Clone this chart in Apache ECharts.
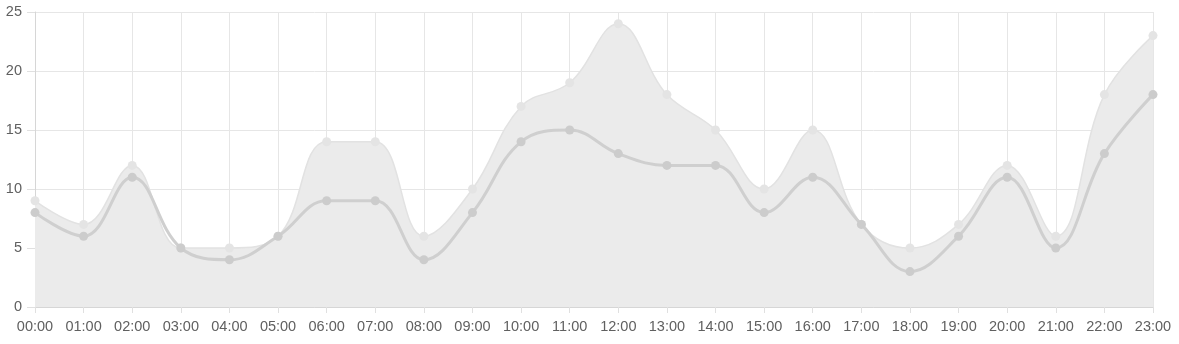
<!DOCTYPE html>
<html><head><meta charset="utf-8">
<script src="https://cdn.jsdelivr.net/npm/echarts@6/dist/echarts.min.js"></script>
<style>html,body{margin:0;padding:0;background:#fff}#c{width:1179px;height:344px}</style>
</head><body><div id="c"></div>
<script>
const categories = ['00:00','01:00','02:00','03:00','04:00','05:00','06:00','07:00','08:00','09:00','10:00','11:00','12:00','13:00','14:00','15:00','16:00','17:00','18:00','19:00','20:00','21:00','22:00','23:00'];
const upperValues = [9,7,12,5,5,6,14,14,6,10,17,19,24,18,15,10,15,7,5,7,12,6,18,23];
const lowerValues = [8,6,11,5,4,6,9,9,4,8,14,15,13,12,12,8,11,7,3,6,11,5,13,18];

const chart = echarts.init(document.getElementById('c'));
chart.setOption({
  animation: false,
  grid: { left: 35, right: 26, top: 12, bottom: 37 },
  xAxis: {
    type: 'category', data: categories, boundaryGap: false,
    axisLine: { lineStyle: { color: '#d6d6d6' } },
    axisTick: { show: true, length: 6, lineStyle: { color: '#e0e0e0' } },
    axisLabel: { color: '#606060', fontSize: 14.5, fontFamily: 'Arial, Liberation Sans', margin: 12 },
    splitLine: { show: true, lineStyle: { color: '#e6e6e6' } }
  },
  yAxis: {
    type: 'value', min: 0, max: 25, interval: 5,
    axisLine: { show: true, lineStyle: { color: '#d6d6d6' } },
    axisTick: { show: true, length: 8, lineStyle: { color: '#e0e0e0' } },
    axisLabel: { color: '#606060', fontSize: 14.5, fontFamily: 'Arial, Liberation Sans', margin: 13 },
    splitLine: { show: true, lineStyle: { color: '#e6e6e6' } }
  },
  series: [
    {
      type: 'line', data: upperValues, smooth: 0.4, z: 1,
      symbol: 'circle', symbolSize: 9,
      itemStyle: { color: '#e4e4e4' },
      lineStyle: { color: '#e2e2e2', width: 1.5 },
      areaStyle: { color: '#ebebeb', opacity: 1 }
    },
    {
      type: 'line', data: lowerValues, smooth: 0.4, z: 2,
      symbol: 'circle', symbolSize: 9,
      itemStyle: { color: '#cccccc' },
      lineStyle: { color: '#cfcfcf', width: 3 }
    }
  ]
});
</script></body></html>
